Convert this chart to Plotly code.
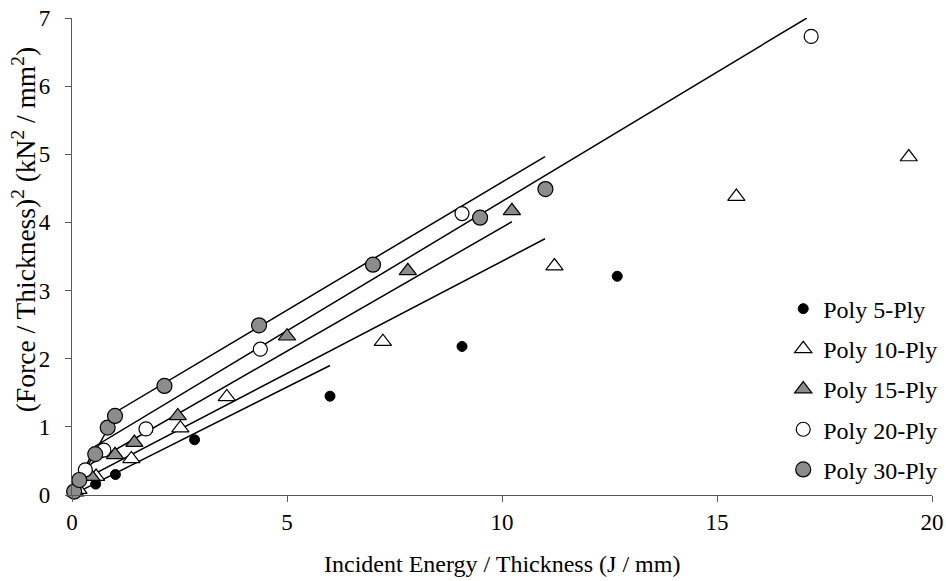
import plotly.graph_objects as go

# ---- data ----
p5_x = [0.08, 0.55, 1.01, 2.85, 6.0, 9.07, 12.68]
p5_y = [0.03, 0.16, 0.30, 0.81, 1.45, 2.18, 3.21]

p10_x = [0.15, 0.56, 1.38, 2.52, 3.6, 7.23, 11.22, 15.45, 19.46]
p10_y = [0.08, 0.27, 0.53, 0.98, 1.44, 2.25, 3.36, 4.38, 4.96]

p15_x = [0.08, 0.45, 1.0, 1.45, 2.46, 5.0, 7.81, 10.23]
p15_y = [0.04, 0.27, 0.59, 0.77, 1.16, 2.33, 3.29, 4.17]

p20_x = [0.05, 0.31, 0.74, 1.72, 4.38, 9.07, 17.19]
p20_y = [0.05, 0.37, 0.66, 0.97, 2.14, 4.13, 6.73]

p30_x = [0.05, 0.17, 0.54, 0.83, 1.0, 2.15, 4.35, 7.0, 9.49, 11.01]
p30_y = [0.05, 0.22, 0.60, 0.99, 1.16, 1.60, 2.49, 3.38, 4.07, 4.49]

# trend lines (origin -> knee -> end)
fit5_x = [0, 6.0]
fit5_y = [0, 1.90]
fit10_x = [0, 0.4, 11.0]
fit10_y = [0, 0.27, 3.76]
fit15_x = [0, 0.45, 10.23]
fit15_y = [0, 0.46, 4.01]
fit20_x = [0, 0.55, 17.09]
fit20_y = [0, 0.72, 7.0]
fit30_x = [0, 1.05, 11.0]
fit30_y = [0, 1.23, 4.965]

names = ["Poly 5-Ply", "Poly 10-Ply", "Poly 15-Ply", "Poly 20-Ply", "Poly 30-Ply"]

FONT = "'Liberation Serif', 'Times New Roman', 'DejaVu Serif', serif"
GRAY = "#8c8c8c"

fig = go.Figure()

for fx, fy in [(fit5_x, fit5_y), (fit10_x, fit10_y), (fit15_x, fit15_y),
               (fit20_x, fit20_y), (fit30_x, fit30_y)]:
    fig.add_trace(go.Scatter(x=fx, y=fy, mode="lines",
                             line=dict(color="black", width=1.5),
                             showlegend=False, hoverinfo="skip"))

series = [
    (p5_x, p5_y, dict(symbol="circle", size=10, color="black",
                      line=dict(color="black", width=1))),
    (p10_x, p10_y, dict(symbol="triangle-up", size=15, color="white",
                        line=dict(color="black", width=1.2))),
    (p15_x, p15_y, dict(symbol="triangle-up", size=15, color=GRAY,
                        line=dict(color="black", width=1.2))),
    (p20_x, p20_y, dict(symbol="circle", size=14, color="white",
                        line=dict(color="black", width=1.2))),
    (p30_x, p30_y, dict(symbol="circle", size=15, color=GRAY,
                        line=dict(color="black", width=1.2))),
]
for i, (sx, sy, mk) in enumerate(series):
    fig.add_trace(go.Scatter(x=sx, y=sy, mode="markers", marker=mk,
                             name=names[i], cliponaxis=False,
                             legendgroup=names[i]))

axis_common = dict(showgrid=False, zeroline=False, showline=True,
                   linecolor="#595959", linewidth=1.2,
                   ticks="outside", ticklen=6, tickcolor="#595959",
                   tickfont=dict(family=FONT, size=23, color="black"),
                   automargin=False)

fig.update_xaxes(range=[0, 20], tick0=0, dtick=5, **axis_common)
fig.update_yaxes(range=[0, 7], tick0=0, dtick=1, ticklabelstandoff=10,
                 **axis_common)

fig.add_annotation(text="Incident Energy / Thickness (J / mm)",
                   xref="paper", yref="paper", x=0.5, y=-0.145,
                   xanchor="center", yanchor="middle", showarrow=False,
                   font=dict(family=FONT, size=24, color="black"))
fig.add_annotation(text="(Force / Thickness)<sup>2</sup> (kN<sup>2</sup> / mm<sup>2</sup>)",
                   xref="paper", yref="paper", x=-0.056, y=0.557,
                   xanchor="center", yanchor="middle", textangle=-90,
                   showarrow=False,
                   font=dict(family=FONT, size=27.5, color="black"))

fig.update_layout(
    width=946, height=581,
    margin=dict(l=72, r=14, t=18, b=86, autoexpand=False),
    paper_bgcolor="white", plot_bgcolor="white",
    font=dict(family=FONT, size=24, color="black"),
    legend=dict(x=0.827, y=0.437, xanchor="left", yanchor="top",
                bgcolor="rgba(0,0,0,0)", tracegroupgap=6,
                font=dict(family=FONT, size=24, color="black")),
)

fig.write_html("out.html")
